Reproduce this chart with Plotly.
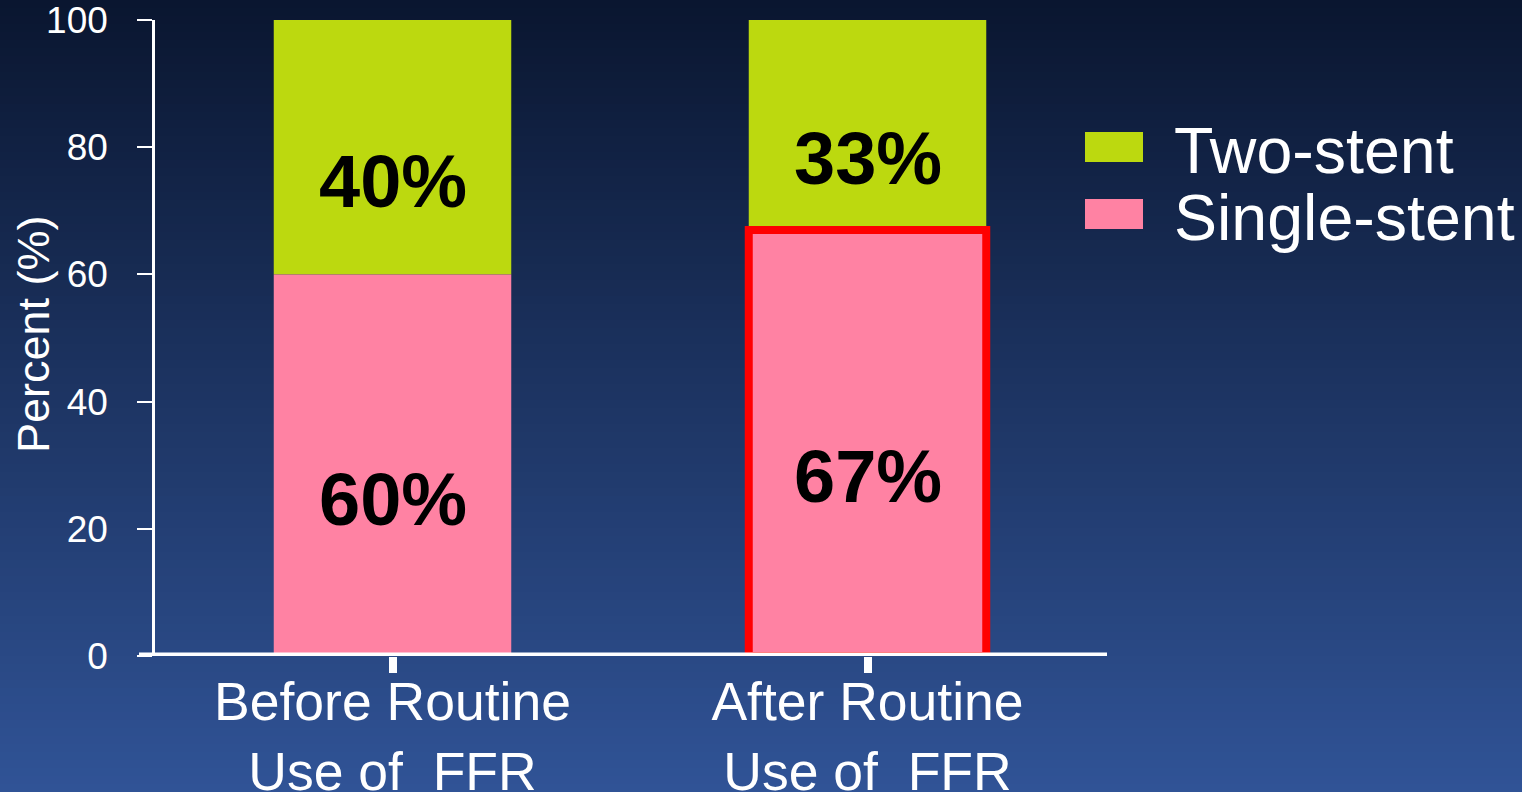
import plotly.graph_objects as go

# Data
categories = ["Before Routine<br>Use of\u00a0 FFR", "After Routine<br>Use of\u00a0 FFR"]
single_stent = [60, 67]
two_stent = [40, 33]
y_ticks = [0, 20, 40, 60, 80, 100]

# Style
W, H = 1522, 792
M_L, M_R, M_T, M_B = 155, 417, 20, 136
PW, PH = W - M_L - M_R, H - M_T - M_B
FONT = "Liberation Sans, Arial, sans-serif"
GREEN = "#bcd90f"
PINK = "#ff82a3"
RED = "#ff0000"
WHITE = "#ffffff"


def px_x(x):
    return (x - M_L) / PW


def px_y(y):
    return (H - M_B - y) / PH


fig = go.Figure()

# green segments drawn first so the red outline of the pink bar stays on top
fig.add_trace(go.Bar(
    name="Two-stent", x=categories, y=two_stent, base=single_stent,
    marker=dict(color=GREEN, line=dict(width=0)), width=0.5,
))
fig.add_trace(go.Bar(
    name="Single-stent", x=categories, y=single_stent, base=[0] * len(single_stent),
    marker=dict(color=PINK, line=dict(color=["rgba(0,0,0,0)", RED], width=[0, 8])),
    width=0.5,
))

# value labels inside the segments
annotations = []
for cat, s, t in zip(categories, single_stent, two_stent):
    for base, val in ((0, s), (s, t)):
        annotations.append(dict(
            x=cat, y=base + val / 2, xref="x", yref="y", text=f"{val}%",
            showarrow=False, yshift=-34,
            font=dict(family=FONT, size=74, color="#000000", weight="bold"),
        ))

# y-axis title
annotations.append(dict(
    x=px_x(33), y=px_y(334), xref="paper", yref="paper", text="Percent (%)",
    textangle=-90, showarrow=False, xanchor="center", yanchor="middle",
    font=dict(family=FONT, size=45, color=WHITE),
))

shapes = []

# vertical background gradient
top_rgb = (10, 22, 48)
bot_rgb = (48, 83, 150)
n_bands = 99
for i in range(n_bands):
    f = i / (n_bands - 1)
    col = "rgb({},{},{})".format(*[round(a + (b - a) * f) for a, b in zip(top_rgb, bot_rgb)])
    y0 = H * i / n_bands
    y1 = H * (i + 1) / n_bands + 1
    shapes.append(dict(
        type="rect", xref="paper", yref="paper", layer="below",
        x0=px_x(0), x1=px_x(W), y0=px_y(y1), y1=px_y(y0),
        fillcolor=col, line=dict(width=0),
    ))

# thick x-axis baseline
shapes.append(dict(
    type="line", xref="paper", yref="y", layer="above",
    x0=px_x(139), x1=px_x(1107), y0=0, y1=0,
    line=dict(color=WHITE, width=7),
))

# legend swatches and labels
legend_items = [("Two-stent", GREEN, 147), ("Single-stent", PINK, 214)]
for name, col, cy in legend_items:
    shapes.append(dict(
        type="rect", xref="paper", yref="paper", layer="above",
        x0=px_x(1085), x1=px_x(1143), y0=px_y(cy + 15), y1=px_y(cy - 15),
        fillcolor=col, line=dict(width=0),
    ))
    annotations.append(dict(
        x=px_x(1172), y=px_y(cy + 4), xref="paper", yref="paper", text=name,
        showarrow=False, xanchor="left", yanchor="middle",
        font=dict(family=FONT, size=64.5, color=WHITE),
    ))

fig.update_layout(
    width=W, height=H,
    margin=dict(l=M_L, r=M_R, t=M_T, b=M_B, pad=0, autoexpand=False),
    paper_bgcolor="#0a1630",
    plot_bgcolor="rgba(0,0,0,0)",
    barmode="overlay",
    showlegend=False,
    shapes=shapes,
    annotations=annotations,
    font=dict(family=FONT, color=WHITE),
    xaxis=dict(
        type="category", range=[-0.5, 1.5], automargin=False,
        showgrid=False, zeroline=False, showline=False,
        ticks="outside", ticklen=16, tickwidth=8, tickcolor=WHITE,
        tickfont=dict(family=FONT, size=53.5, color=WHITE),
        ticklabelstandoff=-17,
    ),
    yaxis=dict(
        range=[0, 100], tickvals=y_ticks, automargin=False,
        showgrid=False, zeroline=False,
        showline=True, linecolor=WHITE, linewidth=2.5,
        ticks="outside", ticklen=15, tickwidth=2, tickcolor=WHITE,
        tickfont=dict(family=FONT, size=37, color=WHITE),
        ticklabelstandoff=22, ticklabeloverflow="allow",
    ),
)

fig.write_html("out.html")
